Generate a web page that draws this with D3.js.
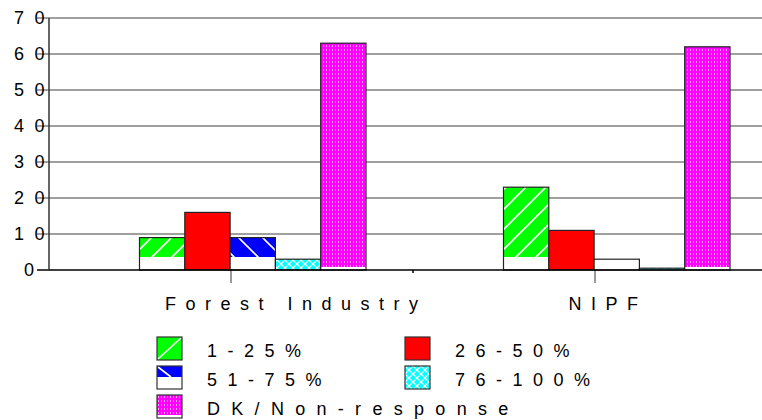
<!DOCTYPE html>
<html>
<head>
<meta charset="utf-8">
<script src="https://cdn.jsdelivr.net/npm/d3@7"></script>
<style>
  body { margin: 0; background: #fff; }
  svg { display: block; }
</style>
</head>
<body>
<div id="chart"></div>
<script>
// data
const categories = ["Forest Industry", "NIPF"];
const seriesNames = ["1-25%", "26-50%", "51-75%", "76-100%", "DK/Non-response"];
const forestValues = [9, 16, 9, 3, 63];
const nipfValues = [23, 11, 3, 0.5, 62];
const yTicks = [0, 10, 20, 30, 40, 50, 60, 70];

const values = [forestValues, nipfValues];

// styling per series (fill pattern, white band at the foot of the bar)
const fills = ["url(#pGreen)", "#ff0000", "url(#pBlue)", "url(#pCyan)", "url(#pMag)"];
const whiteFoot = [13, 0, 13, 0, 3];

const width = 762, height = 420;
const plot = { left: 49, top: 18, bottom: 270, right: 762 };

const svg = d3.select("#chart")
    .append("svg")
    .attr("width", width)
    .attr("height", height)
    .attr("font-family", "'Liberation Sans', Arial, sans-serif")
    .attr("font-size", 18);

// patterns
const defs = svg.append("defs");

const pg = defs.append("pattern").attr("id", "pGreen")
    .attr("patternUnits", "userSpaceOnUse").attr("width", 20).attr("height", 20);
pg.append("rect").attr("width", 20).attr("height", 20).attr("fill", "#00ff00");
pg.append("path").attr("d", "M-2,22L22,-2M-12,12L12,-12M8,32L32,8")
    .attr("stroke", "#fff").attr("stroke-width", 1.6);

const pb = defs.append("pattern").attr("id", "pBlue")
    .attr("patternUnits", "userSpaceOnUse").attr("width", 24).attr("height", 24);
pb.append("rect").attr("width", 24).attr("height", 24).attr("fill", "#0000ff");
pb.append("path").attr("d", "M-2,-2L26,26M-14,10L14,38M10,-14L38,14")
    .attr("stroke", "#fff").attr("stroke-width", 1.6);

const pc = defs.append("pattern").attr("id", "pCyan")
    .attr("patternUnits", "userSpaceOnUse").attr("width", 8).attr("height", 8);
pc.append("rect").attr("width", 8).attr("height", 8).attr("fill", "#00ffff");
pc.append("path").attr("d", "M0,0L8,8M8,0L0,8")
    .attr("stroke", "#fff").attr("stroke-width", 1.2);

const pm = defs.append("pattern").attr("id", "pMag")
    .attr("patternUnits", "userSpaceOnUse").attr("width", 3).attr("height", 4);
pm.append("rect").attr("width", 3).attr("height", 4).attr("fill", "#ff00ff");
pm.append("rect").attr("x", 1).attr("y", 1).attr("width", 1).attr("height", 2).attr("fill", "#ffa0ff");

// scales
const x0 = d3.scaleBand()
    .domain(categories)
    .range([plot.left, plot.left + 2 * 364]);

const x1 = d3.scaleBand()
    .domain(seriesNames)
    .range([90.5, 90.5 + 5 * 45.3]);

const y = d3.scaleLinear()
    .domain([0, 70])
    .range([plot.bottom, plot.top]);

// gridlines
svg.append("g")
    .selectAll("line")
    .data(yTicks.slice(1))
    .enter().append("line")
    .attr("x1", plot.left - 12)
    .attr("x2", plot.right)
    .attr("y1", d => y(d))
    .attr("y2", d => y(d))
    .attr("stroke", "#808080")
    .attr("stroke-width", 1.6);

// y tick at 0
svg.append("line")
    .attr("x1", plot.left - 12).attr("x2", plot.left)
    .attr("y1", y(0)).attr("y2", y(0))
    .attr("stroke", "#000").attr("stroke-width", 1.5);

// category ticks below axis
svg.append("g")
    .selectAll("line")
    .data(categories)
    .enter().append("line")
    .attr("x1", d => x0(d) + x0.bandwidth() / 2)
    .attr("x2", d => x0(d) + x0.bandwidth() / 2)
    .attr("y1", y(0))
    .attr("y2", y(0) + 13)
    .attr("stroke", "#808080")
    .attr("stroke-width", 1.6);

svg.append("line")
    .attr("x1", x0.range()[0] + x0.bandwidth()).attr("x2", x0.range()[0] + x0.bandwidth())
    .attr("y1", y(0)).attr("y2", y(0) + 3)
    .attr("stroke", "#000").attr("stroke-width", 1.5);

// bars
const groups = svg.append("g")
    .selectAll("g")
    .data(categories)
    .enter().append("g")
    .attr("transform", d => `translate(${x0(d)},0)`);

const bar = groups.selectAll("g")
    .data((d, ci) => seriesNames.map((s, si) => ({ s, si, v: values[ci][si] })))
    .enter().append("g");

bar.append("rect")
    .attr("x", d => x1(d.s))
    .attr("y", d => y(d.v))
    .attr("width", x1.bandwidth())
    .attr("height", d => y(0) - y(d.v))
    .attr("fill", "#fff");

bar.append("rect")
    .attr("x", d => x1(d.s))
    .attr("y", d => y(d.v))
    .attr("width", x1.bandwidth())
    .attr("height", d => Math.max(0, y(0) - y(d.v) - whiteFoot[d.si]))
    .attr("fill", d => fills[d.si]);

bar.append("rect")
    .attr("x", d => x1(d.s))
    .attr("y", d => y(d.v))
    .attr("width", x1.bandwidth())
    .attr("height", d => y(0) - y(d.v))
    .attr("fill", "none")
    .attr("stroke", "#222")
    .attr("stroke-width", 1.2);

// axes lines
svg.append("line")
    .attr("x1", plot.left).attr("x2", plot.left)
    .attr("y1", y(70)).attr("y2", y(0))
    .attr("stroke", "#333").attr("stroke-width", 1.5);

svg.append("line")
    .attr("x1", plot.left).attr("x2", plot.right)
    .attr("y1", y(0)).attr("y2", y(0))
    .attr("stroke", "#000").attr("stroke-width", 1.6);

// spaced-out text: laid out at its natural width, then letter-spaced to the right
function spaced(sel, anchorX, align, ls) {
    sel.each(function () {
        const t = d3.select(this);
        const w = this.getComputedTextLength();
        const ax = anchorX(t.datum());
        t.attr("x", align === "end" ? ax - w : ax - w / 2)
         .attr("letter-spacing", ls);
    });
}

// y tick labels
svg.append("g")
    .selectAll("text")
    .data(yTicks)
    .enter().append("text")
    .attr("y", d => y(d))
    .attr("dy", "0.36em")
    .attr("fill", "#000")
    .text(d => d)
    .call(spaced, () => 34, "end", 10.5);

// category labels
svg.append("g")
    .selectAll("text")
    .data(categories)
    .enter().append("text")
    .attr("y", 310)
    .attr("fill", "#000")
    .text(d => d)
    .call(spaced, d => x0(d) + x0.bandwidth() / 2 - 6, "middle", 9.5);

// legend
const legendCols = [157, 405];
const legend = svg.append("g")
    .selectAll("g")
    .data(seriesNames)
    .enter().append("g")
    .attr("transform", (d, i) => `translate(${legendCols[i % 2]},${337 + Math.floor(i / 2) * 29})`);

const sw = 25, sh = 23;

legend.append("rect")
    .attr("width", sw).attr("height", sh)
    .attr("fill", "#fff");

legend.append("rect")
    .attr("width", sw)
    .attr("height", (d, i) => i === 2 ? 11 : sh - whiteFoot[i] * (i === 4 ? 1 : 0))
    .attr("fill", (d, i) => i === 0 ? "#00ff00" : i === 2 ? "#0000ff" : fills[i]);

legend.filter((d, i) => i === 0).append("line")
    .attr("x1", 1).attr("y1", sh - 1).attr("x2", sw - 1).attr("y2", 1)
    .attr("stroke", "#fff").attr("stroke-width", 1.6);

legend.filter((d, i) => i === 2).append("line")
    .attr("x1", 1).attr("y1", 1).attr("x2", 14).attr("y2", 11)
    .attr("stroke", "#fff").attr("stroke-width", 1.6);

legend.append("rect")
    .attr("width", sw).attr("height", sh)
    .attr("fill", "none")
    .attr("stroke", "#333")
    .attr("stroke-width", 1.2);

legend.append("text")
    .attr("x", 50)
    .attr("y", 20)
    .attr("fill", "#000")
    .attr("letter-spacing", (d, i) => i === 4 ? 11.3 : 10.5)
    .text(d => d);
</script>
</body>
</html>
